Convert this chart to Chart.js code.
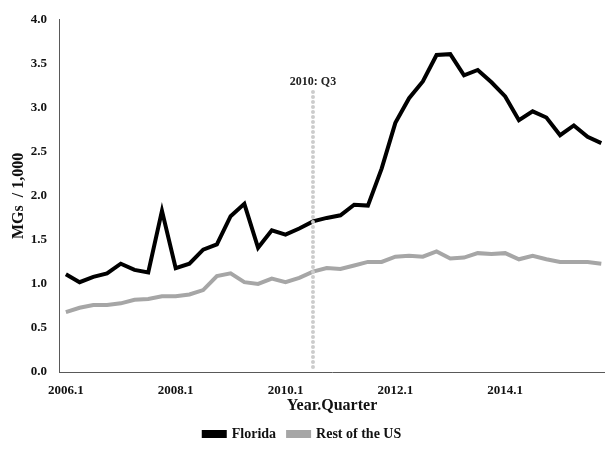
<!DOCTYPE html>
<html>
<head>
<meta charset="utf-8">
<script src="https://cdn.jsdelivr.net/npm/chart.js@4/dist/chart.umd.min.js"></script>
<style>
  html, body { margin: 0; padding: 0; background: #ffffff; }
  #wrap { width: 605px; height: 455px; }
</style>
</head>
<body>
<div id="wrap"><canvas id="mgChart"></canvas></div>
<script>
// quarters 2006.1 .. 2015.4
const quarters = [];
for (let y = 2006; y <= 2015; y++) {
    for (let q = 1; q <= 4; q++) quarters.push(y + '.' + q);
}

const florida = [
    1.11, 1.02, 1.08, 1.12, 1.23, 1.16, 1.13, 1.83, 1.18, 1.23,
    1.39, 1.45, 1.77, 1.91, 1.41, 1.61, 1.56, 1.63, 1.71, 1.75,
    1.78, 1.90, 1.89, 2.31, 2.83, 3.11, 3.30, 3.60, 3.61, 3.37,
    3.43, 3.29, 3.13, 2.86, 2.96, 2.89, 2.69, 2.80, 2.67, 2.60
];
const restOfUS = [
    0.68, 0.73, 0.76, 0.76, 0.78, 0.82, 0.83, 0.86, 0.86, 0.88,
    0.93, 1.09, 1.12, 1.02, 1.00, 1.06, 1.02, 1.07, 1.14, 1.18,
    1.17, 1.21, 1.25, 1.25, 1.31, 1.32, 1.31, 1.37, 1.29, 1.30,
    1.35, 1.34, 1.35, 1.28, 1.32, 1.28, 1.25, 1.25, 1.25, 1.23
];
const xTickLabels = ['2006.1', '2008.1', '2010.1', '2012.1', '2014.1'];
const markerQuarter = '2010.3';
const markerLabel = '2010: Q3';
const markerTop = 3.18;

const serif = '"Liberation Serif", "DejaVu Serif", serif';

function toPoints(values) {
    return values.map((v, i) => ({ x: i, y: v }));
}

// dotted vertical marker line with its label
const markerPlugin = {
    id: 'marker',
    afterDatasetsDraw(chart) {
        const ctx = chart.ctx;
        const xs = chart.scales.x, ys = chart.scales.y;
        const px = xs.getPixelForValue(quarters.indexOf(markerQuarter));
        const top = ys.getPixelForValue(markerTop);
        const bottom = ys.getPixelForValue(0);
        ctx.save();
        ctx.strokeStyle = '#cccccc';
        ctx.lineWidth = 4;
        ctx.lineCap = 'round';
        ctx.setLineDash([0, 5]);
        ctx.beginPath();
        ctx.moveTo(px, top);
        ctx.lineTo(px, bottom);
        ctx.stroke();
        ctx.setLineDash([]);
        ctx.fillStyle = '#222';
        ctx.font = 'bold 12px ' + serif;
        ctx.textAlign = 'center';
        ctx.textBaseline = 'bottom';
        ctx.fillText(markerLabel, px, top - 4);
        ctx.restore();
    }
};

new Chart(document.getElementById('mgChart'), {
    type: 'line',
    data: {
        datasets: [{
            label: 'Florida',
            data: toPoints(florida),
            borderColor: '#000000',
            backgroundColor: '#000000',
            borderWidth: 4,
            pointRadius: 0,
            tension: 0
        }, {
            label: 'Rest of the US',
            data: toPoints(restOfUS),
            borderColor: '#a6a6a6',
            backgroundColor: '#a6a6a6',
            borderWidth: 4,
            pointRadius: 0,
            tension: 0
        }]
    },
    options: {
        responsive: true,
        maintainAspectRatio: false,
        animation: false,
        layout: { padding: { top: 10, right: 0, left: 0, bottom: 4 } },
        plugins: {
            tooltip: { enabled: false },
            legend: {
                position: 'bottom',
                labels: {
                    color: '#111',
                    boxWidth: 21,
                    boxHeight: 4,
                    padding: 12,
                    font: { family: serif, size: 14, weight: 'bold' }
                }
            }
        },
        scales: {
            x: {
                type: 'linear',
                min: -0.5,
                max: 39.27,
                grid: { display: false, drawTicks: false },
                border: { color: '#595959', width: 1 },
                afterBuildTicks(scale) {
                    scale.ticks = xTickLabels.map(l => ({ value: quarters.indexOf(l) }));
                },
                afterFit(scale) { scale.height = 43; },
                ticks: {
                    color: '#111',
                    padding: 11,
                    maxRotation: 0,
                    font: { family: serif, size: 13, weight: 'bold' },
                    callback: (v) => quarters[v]
                },
                title: {
                    display: true,
                    text: 'Year.Quarter',
                    color: '#111',
                    padding: { top: 0, bottom: 0 },
                    font: { family: serif, size: 16, weight: 'bold' }
                }
            },
            y: {
                min: 0,
                max: 4,
                grid: { display: false, drawTicks: false },
                border: { color: '#595959', width: 1 },
                afterFit(scale) { scale.width = 59; },
                ticks: {
                    stepSize: 0.5,
                    color: '#111',
                    padding: 12,
                    font: { family: serif, size: 13, weight: 'bold' },
                    callback: (v) => v.toFixed(1)
                },
                title: {
                    display: true,
                    text: 'MGs  / 1,000',
                    color: '#111',
                    padding: { top: 9, bottom: 0 },
                    font: { family: serif, size: 16, weight: 'bold' }
                }
            }
        }
    },
    plugins: [markerPlugin]
});
</script>
</body>
</html>
